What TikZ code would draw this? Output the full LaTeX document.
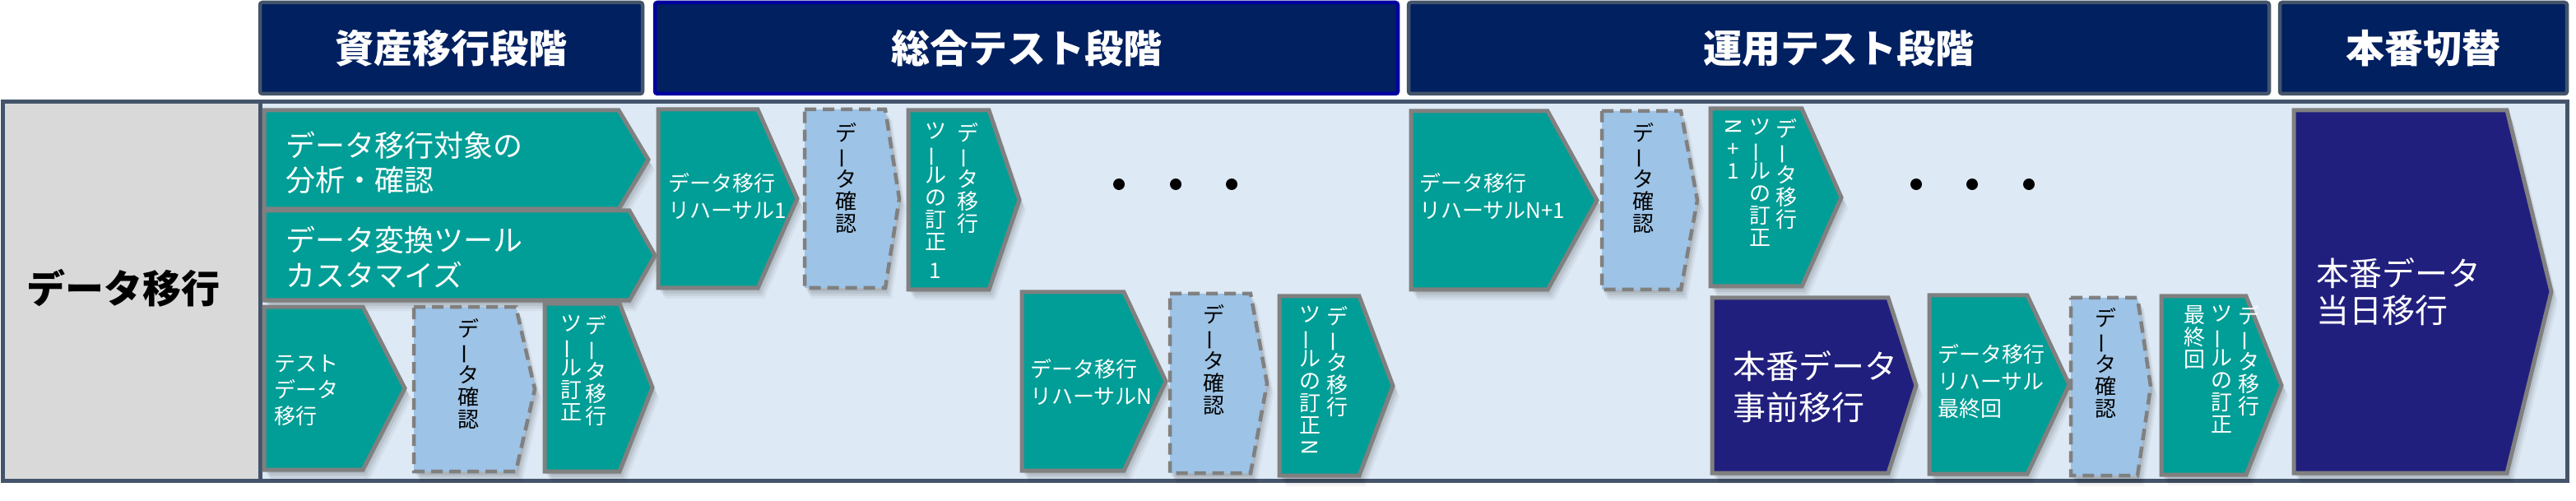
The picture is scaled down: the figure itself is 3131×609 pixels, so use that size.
\documentclass[tikz,border=0pt]{standalone}
\usepackage{fontspec}
\setmainfont{Noto Sans CJK JP}
\usepackage{graphicx}
\usetikzlibrary{shadows}
\definecolor{teal1}{RGB}{0,158,150}
\definecolor{edgegray}{RGB}{128,128,128}
\definecolor{dashfill}{RGB}{157,195,230}
\definecolor{navybox}{RGB}{33,31,125}
\definecolor{hdrfill}{RGB}{0,32,96}
\definecolor{hdredge}{RGB}{68,84,106}
\definecolor{hdredgeb}{RGB}{0,0,160}
\definecolor{areablue}{RGB}{221,233,245}
\definecolor{leftgray}{RGB}{217,217,217}
\newcommand\vbar{\rotatebox[origin=c]{90}{ー}}
\newcommand\vN{\rotatebox[origin=c]{-90}{N}}
\newcommand\hplate[6][]{\path[#1] (#2,#3) -- (#6,#3) -- (#4,{(#3+#5)/2}) -- (#6,#5) -- (#2,#5) -- cycle;}
\tikzset{
 softshadow/.style={
   general shadow={shadow xshift=2pt,shadow yshift=-4pt,fill=black,opacity=.07},
   general shadow={shadow xshift=4pt,shadow yshift=-7pt,fill=black,opacity=.07},
   general shadow={shadow xshift=6pt,shadow yshift=-10pt,fill=black,opacity=.06},
   general shadow={shadow xshift=8pt,shadow yshift=-13pt,fill=black,opacity=.04}},
 tealbox/.style={softshadow,fill=teal1,draw=edgegray,line width=5pt},
 navyplate/.style={softshadow,fill=navybox,draw=edgegray,line width=5pt},
 checkbox/.style={softshadow,fill=dashfill,draw=edgegray,line width=4.5pt,dash pattern=on 14pt off 8pt},
 hdr/.style={fill=hdrfill,draw=hdredge,line width=4.5pt,rounded corners=3pt,minimum height=111pt,
   text=white,font=\fontsize{47}{50}\selectfont\bfseries,inner sep=0pt},
 wtext/.style={text=white,inner sep=0pt,align=left,anchor=west},
 s26/.style={font=\fontsize{26}{33}\selectfont},
 vtext/.style={font=\fontsize{26}{27}\selectfont,align=center,anchor=north,inner sep=0pt},
 dot/.style={circle,fill=black,minimum size=14pt,inner sep=0pt}
}
\begin{document}
\begin{tikzpicture}[x=1pt,y=-1pt]
\useasboundingbox (0,0) rectangle (3131,609);
% main frame
\fill[areablue] (3,124) rectangle (3120,584);
\fill[leftgray] (3,124) rectangle (316,584);
\draw[hdredge,line width=5pt] (316,124) -- (316,584);
\draw[hdredge,line width=5pt] (3,124) rectangle (3120,584);
\node[font=\fontsize{47}{50}\selectfont\bfseries,inner sep=0pt] (lbl) at (150,350) {データ移行};
% headers
\node[hdr,minimum width=465pt] (h1) at (548.5,58.5) {資産移行段階};
\node[hdr,draw=hdredgeb,minimum width=903pt] (h2) at (1247.5,58.5) {総合テスト段階};
\node[hdr,minimum width=1046pt] (h3) at (2235,58.5) {運用テスト段階};
\node[hdr,minimum width=349pt] (h4) at (2945.5,58.5) {本番切替};
% asset migration phase
\hplate[tealbox]{321}{134}{788}{254}{752}
\node[wtext,font=\fontsize{36}{42}\selectfont] (tA) at (347,198) {データ移行対象の\\分析・確認};
\hplate[tealbox]{321}{256}{796}{365}{765}
\node[wtext,font=\fontsize{36}{43}\selectfont] (tB) at (347,312.5) {データ変換ツール\\カスタマイズ};
\hplate[tealbox]{321}{373}{492}{571}{441}
\node[wtext,font=\fontsize{26}{32}\selectfont] (tC) at (333,475) {テスト\\データ\\移行};
\hplate[checkbox]{503}{373}{650}{573}{627}
\node[vtext] (tD) at (569,387) {デ\\\vbar\\タ\\確\\認};
\hplate[tealbox]{662}{369}{793}{573}{753}
\node[vtext,text=white] (tE1) at (724,383) {デ\\\vbar\\タ\\移\\行};
\node[vtext,text=white] (tE2) at (694,383) {ツ\\\vbar\\ル\\訂\\正};
% rehearsal 1
\hplate[tealbox]{800}{133}{969}{350}{921}
\node[wtext,s26] (tF) at (812,238.5) {データ移行\\リハーサル1};
\hplate[checkbox]{978}{133}{1093}{350}{1076}
\node[vtext] (tG) at (1028,149) {デ\\\vbar\\タ\\確\\認};
\hplate[tealbox]{1104}{134}{1239}{352}{1202}
\node[vtext,text=white] (tH1) at (1176,149) {デ\\\vbar\\タ\\移\\行};
\node[vtext,text=white] (tH2) at (1137,149) {ツ\\\vbar\\ル\\の\\訂\\正\\[8pt]1};
\node[dot] (d1) at (1360,224) {};
\node[dot] (d2) at (1429,224) {};
\node[dot] (d3) at (1497,224) {};
% rehearsal N
\hplate[tealbox]{1242}{355}{1417}{572}{1366}
\node[wtext,s26] (tI) at (1252,465) {データ移行\\リハーサルN};
\hplate[checkbox]{1422}{357}{1540}{575}{1520}
\node[vtext] (tJ) at (1475,370) {デ\\\vbar\\タ\\確\\認};
\hplate[tealbox]{1555}{360}{1693}{578}{1652}
\node[vtext,text=white] (tK1) at (1625,372) {デ\\\vbar\\タ\\移\\行};
\node[vtext,text=white] (tK2) at (1592,372) {ツ\\\vbar\\ル\\の\\訂\\正\\\vN};
% rehearsal N+1
\hplate[tealbox]{1715}{135}{1941}{352}{1881}
\node[wtext,s26] (tL) at (1725,238.5) {データ移行\\リハーサルN+1};
\hplate[checkbox]{1947}{135}{2063}{352}{2043}
\node[vtext] (tM) at (1997,149) {デ\\\vbar\\タ\\確\\認};
\hplate[tealbox]{2079}{132}{2238}{348}{2190}
\node[vtext,text=white] (tN1) at (2171,144) {デ\\\vbar\\タ\\移\\行};
\node[vtext,text=white] (tN2) at (2139,144) {ツ\\\vbar\\ル\\の\\訂\\正};
\node[vtext,text=white] (tN3) at (2107,144) {\vN\\+\\1};
\node[dot] (d4) at (2329,224) {};
\node[dot] (d5) at (2397,224) {};
\node[dot] (d6) at (2466,224) {};
% production pre-migration and final rehearsal
\hplate[navyplate]{2081}{362}{2329}{575}{2295}
\node[wtext,font=\fontsize{40}{50}\selectfont] (tO) at (2106,470) {本番データ\\事前移行};
\hplate[tealbox]{2345}{359}{2515}{576}{2464}
\node[wtext,s26] (tP) at (2355,463.5) {データ移行\\リハーサル\\最終回};
\hplate[checkbox]{2517}{362}{2614}{578}{2598}
\node[vtext] (tQ) at (2559,374) {デ\\\vbar\\タ\\確\\認};
\hplate[tealbox]{2627}{360}{2773}{577}{2730}
\node[vtext,text=white] (tR1) at (2733,371) {デ\\\vbar\\タ\\移\\行};
\node[vtext,text=white] (tR2) at (2700,371) {ツ\\\vbar\\ル\\の\\訂\\正};
\node[vtext,text=white] (tR3) at (2667,371) {最\\終\\回};
% cut-over
\hplate[navyplate]{2788}{134}{3101}{575}{3047}
\node[wtext,font=\fontsize{40}{45}\selectfont] (tS) at (2815,354.5) {本番データ\\当日移行};
\end{tikzpicture}
\end{document}
